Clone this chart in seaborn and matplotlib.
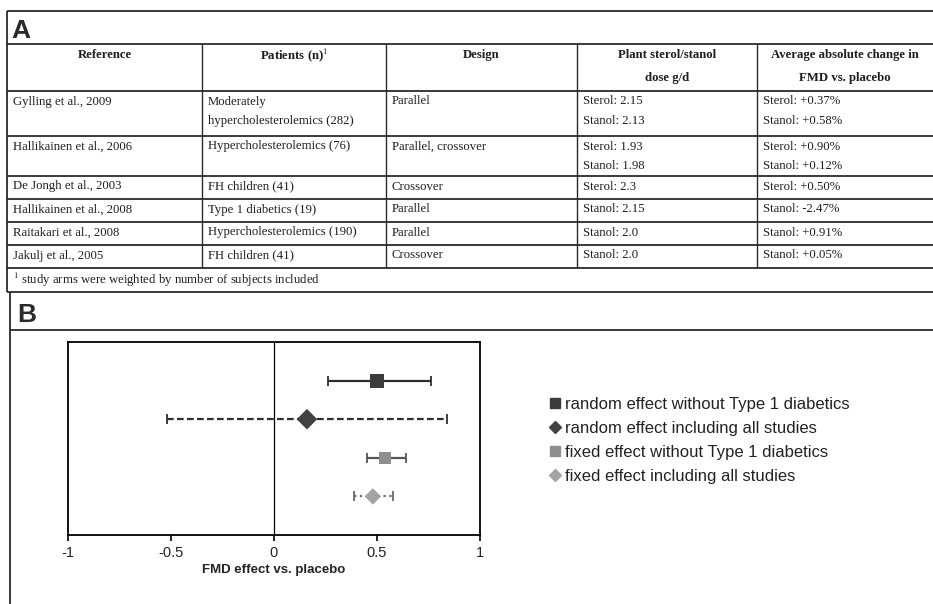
import numpy as np
import pandas as pd
import seaborn as sns
import matplotlib.pyplot as plt
from matplotlib.lines import Line2D

## Panel A: summary table of the included studies
col_headers = [["Reference"], ["Patients (n)$^{1}$"], ["Design"],
               ["Plant sterol/stanol", "dose g/d"],
               ["Average absolute change in", "FMD vs. placebo"]]
references = ["Gylling et al., 2009", "Hallikainen et al., 2006", "De Jongh et al., 2003",
              "Hallikainen et al., 2008", "Raitakari et al., 2008", "Jakulj et al., 2005"]
patients = [["Moderately", "hypercholesterolemics (282)"], ["Hypercholesterolemics (76)"],
            ["FH children (41)"], ["Type 1 diabetics (19)"],
            ["Hypercholesterolemics (190)"], ["FH children (41)"]]
designs = [["Parallel"], ["Parallel, crossover"], ["Crossover"], ["Parallel"], ["Parallel"], ["Crossover"]]
doses = [["Sterol: 2.15", "Stanol: 2.13"], ["Sterol: 1.93", "Stanol: 1.98"], ["Sterol: 2.3"],
         ["Stanol: 2.15"], ["Stanol: 2.0"], ["Stanol: 2.0"]]
fmd_change = [["Sterol: +0.37%", "Stanol: +0.58%"], ["Sterol: +0.90%", "Stanol: +0.12%"],
              ["Sterol: +0.50%"], ["Stanol: -2.47%"], ["Stanol: +0.91%"], ["Stanol: +0.05%"]]
footnote = "$^{1}$ study arms were weighted by number of subjects included"

## Panel B: pooled FMD effects (mean and 95% CI)
effects = ["random effect without Type 1 diabetics", "random effect including all studies",
           "fixed effect without Type 1 diabetics", "fixed effect including all studies"]
estimate = [0.50, 0.16, 0.54, 0.48]
ci_low = [0.26, -0.52, 0.45, 0.39]
ci_high = [0.76, 0.84, 0.64, 0.58]
x_ticks = [-1, -0.5, 0, 0.5, 1]
x_tick_labels = ["-1", "-0.5", "0", "0.5", "1"]

sns.set_style("ticks")
plt.rcParams["font.family"] = ["Liberation Sans", "DejaVu Sans"]
plt.rcParams["mathtext.fontset"] = "stix"

W, H = 933, 604
fig = plt.figure(figsize=(W / 100, H / 100), dpi=100)

# background axes in pixel coordinates for the frame and the table
bg = fig.add_axes([0, 0, 1, 1])
bg.set_xlim(0, W)
bg.set_ylim(H, 0)
bg.axis("off")

line_kw = dict(color="#2b2b2b", lw=1.3)
col_edges = [7, 202, 386, 577, 757, W]
row_edges = [44, 91, 136, 176, 199, 222, 245, 268]

# outer frame
bg.hlines(11, 7, W, **line_kw)
bg.vlines(7, 11, 292, **line_kw)
bg.vlines(10, 292, H, **line_kw)
bg.hlines(292, 7, W, **line_kw)
bg.hlines(330, 10, W, **line_kw)
bg.text(11, 31, "A", fontsize=19, fontweight="bold", va="center", color="#2a2a2a")
bg.text(17, 315, "B", fontsize=19, fontweight="bold", va="center", color="#2a2a2a")

# table grid
bg.hlines(row_edges, 7, W, **line_kw)
bg.vlines(col_edges[1:-1], row_edges[0], row_edges[-1], color="#2b2b2b", lw=1.0)

serif = dict(family=["Liberation Serif", "DejaVu Serif"], fontsize=9.2, color="#1e1e1e", va="center")
for j, lines in enumerate(col_headers):
    cx = (col_edges[j] + col_edges[j + 1]) / 2
    for i, t in enumerate(lines):
        bg.text(cx, row_edges[0] + 11 + 23 * i, t, ha="center", fontweight="bold", **serif)

body = list(zip([[r] for r in references], patients, designs, doses, fmd_change))
for r, cells in enumerate(body):
    top = row_edges[r + 1]
    for j, lines in enumerate(cells):
        for i, t in enumerate(lines):
            bg.text(col_edges[j] + 6, top + 10.5 + 19.5 * i, t, ha="left", **serif)
bg.text(13, 280, footnote, ha="left", **serif)

# forest plot
ax = fig.add_axes([68 / W, (H - 535) / H, 412 / W, 193 / H])
df = pd.DataFrame({"effect": effects, "estimate": estimate,
                   "low": ci_low, "high": ci_high})
df["row"] = np.arange(len(df), 0, -1)

marker_map = dict(zip(effects, ["s", "D", "s", "D"]))
color_map = dict(zip(effects, ["#3c3c3c", "#424242", "#8e8e8e", "#a4a4a4"]))
size_map = dict(zip(effects, [100, 110, 75, 70]))
line_color = ["#2e2e2e", "#2e2e2e", "#555555", "#6a6a6a"]
line_style = ["-", (0, (3, 1.5)), "-", ":"]

for k, rec in df.iterrows():
    eb = ax.errorbar(rec["estimate"], rec["row"],
                     xerr=[[rec["estimate"] - rec["low"]], [rec["high"] - rec["estimate"]]],
                     fmt="none", ecolor=line_color[k], elinewidth=1.6, capsize=3.5, capthick=1.3)
    eb[-1][0].set_linestyle(line_style[k])

sns.scatterplot(data=df, x="estimate", y="row", hue="effect", style="effect", size="effect",
                palette=color_map, markers=marker_map, sizes=size_map,
                edgecolor="none", legend=False, zorder=5, ax=ax)

ax.axvline(0, color="black", lw=0.9, zorder=1)
ax.set_xlim(-1, 1)
ax.set_ylim(0, len(df) + 1)
ax.set_xticks(x_ticks)
ax.set_xticklabels(x_tick_labels, fontsize=10.5, color="#222")
ax.set_yticks([])
ax.set_ylabel("")
ax.set_xlabel("FMD effect vs. placebo", fontsize=9.5, fontweight="bold", color="#222", labelpad=3)
ax.tick_params(axis="x", direction="out", length=4, width=1.2, color="black", pad=4)
for sp in ax.spines.values():
    sp.set_visible(True)
    sp.set_color("black")
    sp.set_linewidth(1.3)

handles = [Line2D([], [], ls="none", marker=marker_map[e], color=color_map[e],
                  markersize=7 if marker_map[e] == "s" else 6) for e in effects]
fig.legend(handles, effects, loc="upper left", bbox_to_anchor=(549 / W, 1 - 397 / H),
           frameon=False, fontsize=12, handlelength=0.7, handletextpad=0.25,
           labelspacing=0.54, borderaxespad=0, borderpad=0, labelcolor="#222")

fig.savefig("out.png", dpi=100)
